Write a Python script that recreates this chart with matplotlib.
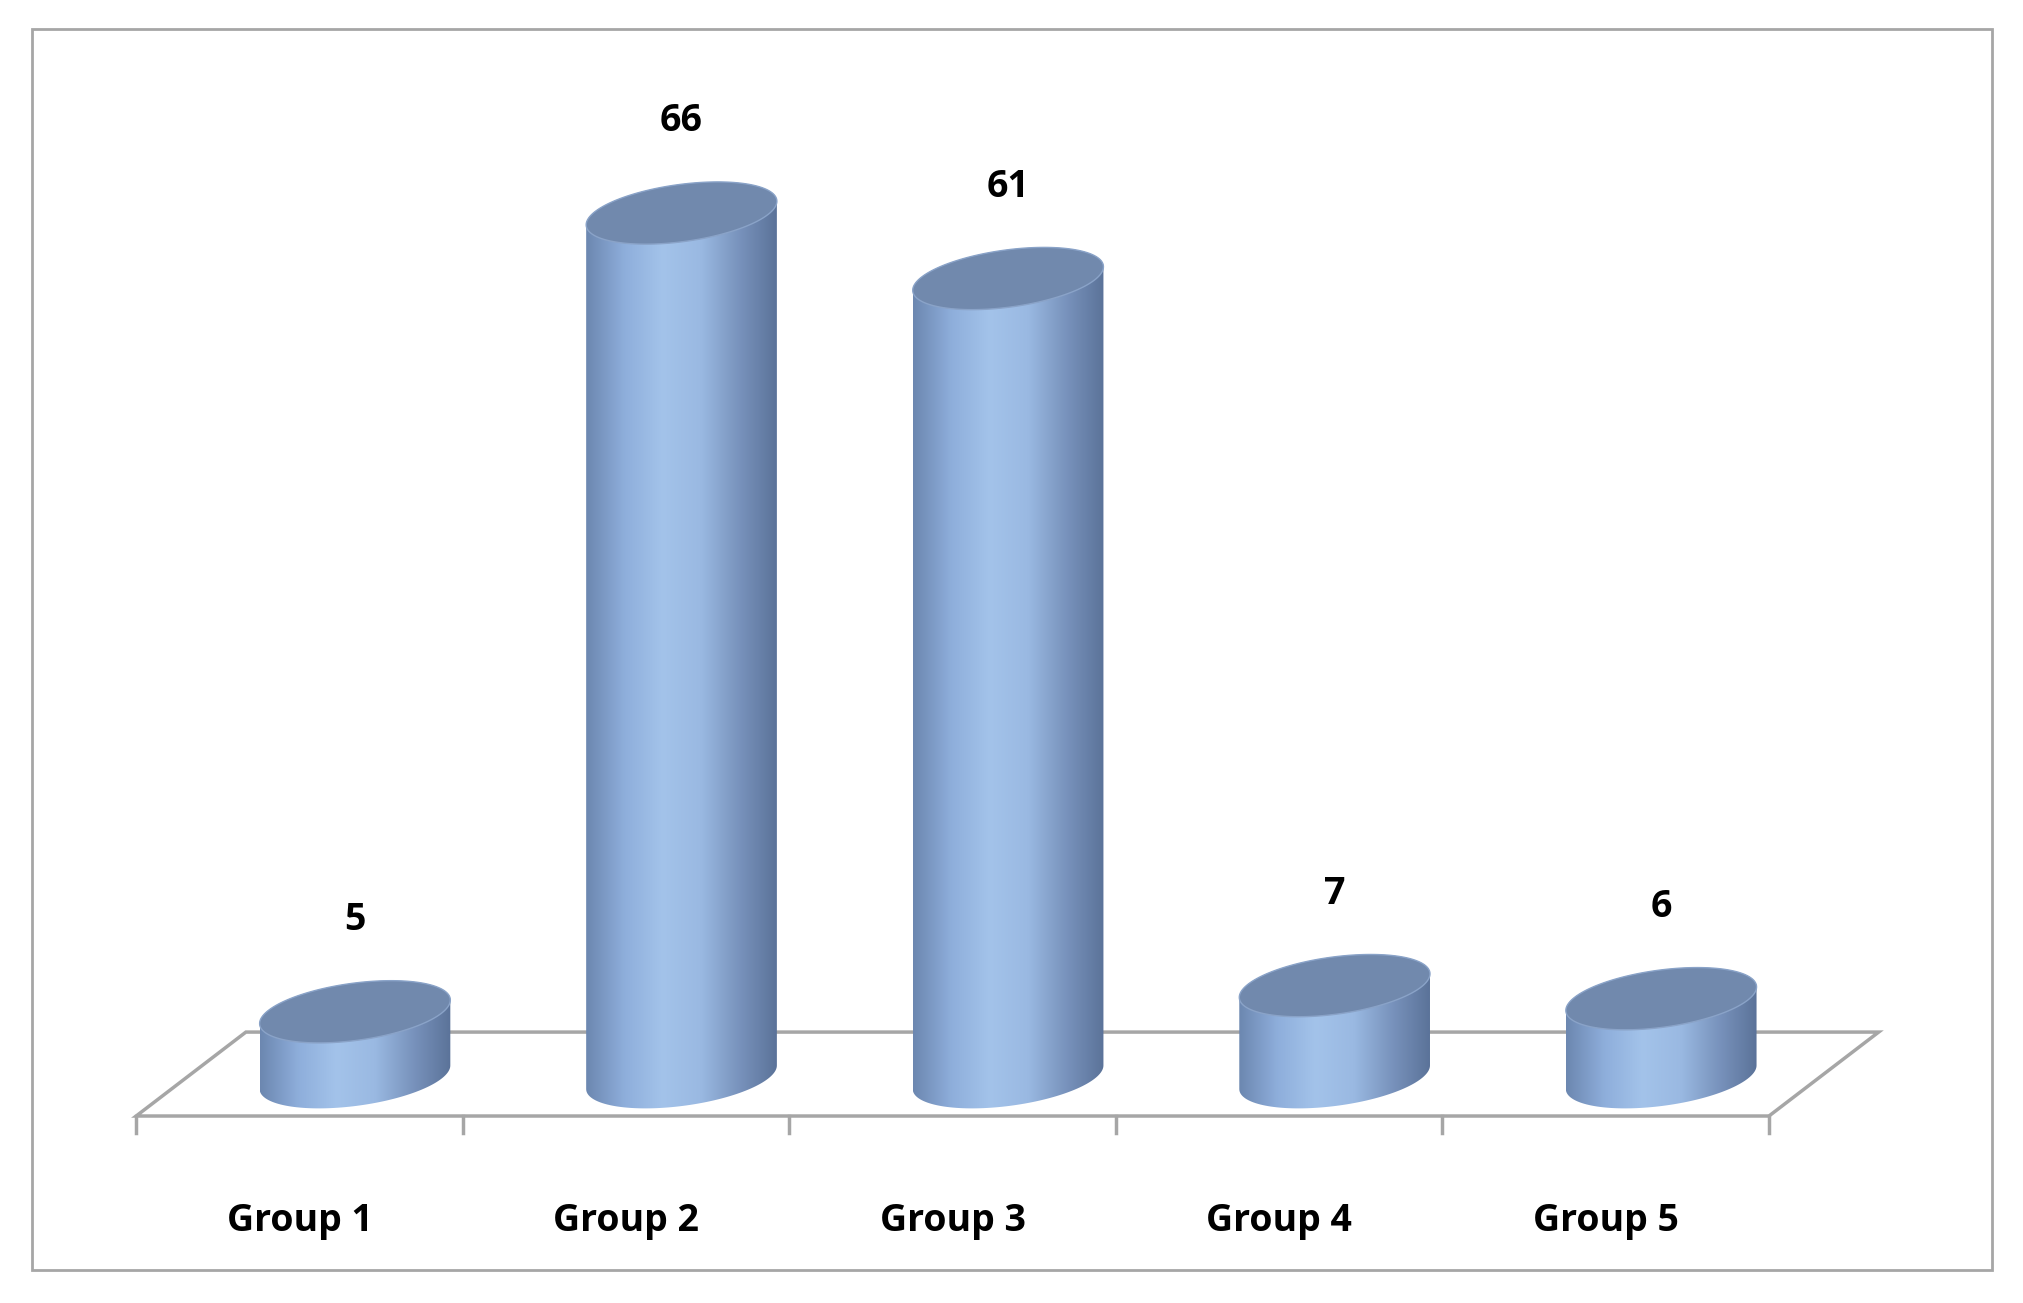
import numpy as np
import matplotlib
matplotlib.use("Agg")
import matplotlib.pyplot as plt
from matplotlib.patches import Polygon, Rectangle
from matplotlib.colors import LinearSegmentedColormap

categories = ["Group 1", "Group 2", "Group 3", "Group 4", "Group 5"]
values = [5, 66, 61, 7, 6]

fig = plt.figure(figsize=(20.24, 13.03), dpi=100)
fig.patches.append(Rectangle((0.016, 0.025), 0.968, 0.953, transform=fig.transFigure,
                             fill=False, edgecolor="#a6a6a6", lw=2))
ax = fig.add_axes([0, 0, 1, 1])
ax.set_xlim(-1.087, 5.111)
ax.set_ylim(-17.24, 82.27)
ax.axis("off")

off = 0.17          # depth shift of cylinders vs category slots
depth_x = 0.336
floor_back, floor_front = 3.45, -2.96
n = len(categories)
L, R = -0.5 - off, n - 0.5 - off
ax.add_patch(Polygon([(L, floor_front), (R, floor_front), (R + depth_x, floor_back),
                      (L + depth_x, floor_back)], closed=True, fill=False,
                     edgecolor="#a6a6a6", lw=2.5, zorder=1))
for t in np.arange(n + 1) - 0.5 - off:
    ax.plot([t, t], [floor_front, floor_front - 1.3], color="#a6a6a6", lw=2.5, zorder=1)

a, b, k = 0.292, 2.2, 0.9
cmap = LinearSegmentedColormap.from_list("cyl", ["#6c87b0", "#8eaedb", "#a3c3ea", "#9ab9e2", "#7993bd", "#5b7399"])
grad = np.linspace(0, 1, 256)[None, :]

def ell(cx, cy, th):
    return np.column_stack([cx + a * np.cos(th), cy + b * np.sin(th) + k * np.cos(th)])

for i, (c, v) in enumerate(zip(categories, values)):
    cx = i
    base = 0.0
    lower = ell(cx, base, np.linspace(np.pi, 2 * np.pi, 80))
    upper = ell(cx, v, np.linspace(0, np.pi, 80))
    body = Polygon(np.vstack([lower, upper]), closed=True, facecolor="none", edgecolor="none", zorder=2)
    ax.add_patch(body)
    im = ax.imshow(grad, cmap=cmap, aspect="auto", extent=(cx - a, cx + a, base - b - k, v + b + k),
                   zorder=2, interpolation="bicubic")
    im.set_clip_path(body)
    top = Polygon(ell(cx, v, np.linspace(0, 2 * np.pi, 160)), closed=True,
                  facecolor="#7189ad", edgecolor="#8aa3c8", lw=1, zorder=3)
    ax.add_patch(top)
    ax.text(cx, v + 7.0, str(v), ha="center", va="center", fontsize=27,
            fontweight="bold", family="Open Sans", zorder=4)
    ax.text(i - off, floor_front - 8.0, c, ha="center", va="center", fontsize=27,
            fontweight="bold", family="Open Sans")

fig.savefig("out.png", dpi=100)
